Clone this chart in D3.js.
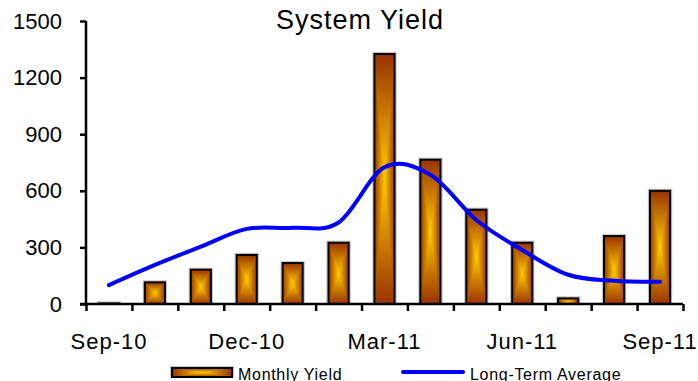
<!DOCTYPE html>
<html lang="en">
<head>
    <meta charset="UTF-8">
    <title>System Yield</title>
    <style>
        body { margin: 0; background: #fff; }
        svg { display: block; font-family: "Liberation Sans", Arial, sans-serif; }
        .axis path,
        .axis line {
            fill: none;
            stroke: black;
            stroke-width: 2.5;
        }
        .axis text {
            font-size: 22px;
            fill: #000;
        }
    </style>
</head>
<body>
<script src="https://cdn.jsdelivr.net/npm/d3@7"></script>
<script>
    var width = 698;
    var height = 381;

    // data
    var months = ["Sep-10", "Oct-10", "Nov-10", "Dec-10", "Jan-11", "Feb-11", "Mar-11",
                  "Apr-11", "May-11", "Jun-11", "Jul-11", "Aug-11", "Sep-11"];
    var monthlyYield = [3, 115, 182, 260, 217, 325, 1325, 765, 500, 325, 30, 360, 600];
    var longTermAvg = [100, 207, 304, 398, 404, 432, 725, 685, 445, 286, 155, 123, 118];
    var yTicks = [0, 300, 600, 900, 1200, 1500];
    var xLabels = ["Sep-10", "Dec-10", "Mar-11", "Jun-11", "Sep-11"];

    var plotLeft = 86, plotRight = 683, plotTop = 21, plotBottom = 304;
    var brown = "#993300", yellow = "#FFCC00";

    var svg = d3.select("body").append("svg")
        .attr("width", width)
        .attr("height", height);

    var defs = svg.append("defs");
    // horizontal: edge -> centre -> edge
    var gh = defs.append("linearGradient").attr("id", "gh")
        .attr("x1", 0).attr("x2", 1).attr("y1", 0).attr("y2", 0);
    gh.append("stop").attr("offset", 0).attr("stop-color", brown);
    gh.append("stop").attr("offset", 0.5).attr("stop-color", yellow);
    gh.append("stop").attr("offset", 1).attr("stop-color", brown);
    // vertical halves for the top / bottom triangles
    var gt = defs.append("linearGradient").attr("id", "gt")
        .attr("x1", 0).attr("x2", 0).attr("y1", 0).attr("y2", 1);
    gt.append("stop").attr("offset", 0).attr("stop-color", brown);
    gt.append("stop").attr("offset", 1).attr("stop-color", yellow);
    var gb = defs.append("linearGradient").attr("id", "gb")
        .attr("x1", 0).attr("x2", 0).attr("y1", 0).attr("y2", 1);
    gb.append("stop").attr("offset", 0).attr("stop-color", yellow);
    gb.append("stop").attr("offset", 1).attr("stop-color", brown);

    // scales
    var pad = 0.56;
    var x = d3.scaleBand()
        .domain(months)
        .range([plotLeft, plotRight])
        .paddingInner(pad)
        .paddingOuter(pad / 2);
    var xEdge = d3.scaleLinear().domain([0, months.length]).range([plotLeft, plotRight]);
    var y = d3.scaleLinear().domain([0, 1500]).range([plotBottom, plotTop]);

    // bars with a "from centre" rectangular gradient
    function drawBar(g, x0, y0, w, h) {
        var cx = x0 + w / 2, cy = y0 + h / 2;
        g.append("rect").attr("x", x0 - 1.5).attr("y", y0 - 1.5)
            .attr("width", w + 3).attr("height", h + 1.5)
            .attr("fill", "none").attr("stroke", "#c8c8c8").attr("stroke-width", 1.2);
        g.append("rect").attr("x", x0).attr("y", y0)
            .attr("width", w).attr("height", h).attr("fill", "url(#gh)");
        if (h > 2) {
            g.append("path")
                .attr("d", "M" + x0 + "," + y0 + "L" + (x0 + w) + "," + y0 + "L" + cx + "," + cy + "Z")
                .attr("fill", "url(#gt)");
            g.append("path")
                .attr("d", "M" + x0 + "," + (y0 + h) + "L" + (x0 + w) + "," + (y0 + h) + "L" + cx + "," + cy + "Z")
                .attr("fill", "url(#gb)");
        }
        g.append("rect").attr("x", x0).attr("y", y0)
            .attr("width", w).attr("height", h)
            .attr("fill", "none").attr("stroke", "#000").attr("stroke-width", 2);
    }

    var bars = svg.append("g");
    monthlyYield.forEach(function(d, i) {
        var g = bars.append("g");
        drawBar(g, x(months[i]), y(d), x.bandwidth(), y(0) - y(d));
    });

    // long-term average line
    var line = d3.line()
        .x(function(d, i) { return x(months[i]) + x.bandwidth() / 2; })
        .y(function(d) { return y(d); })
        .curve(d3.curveCatmullRom.alpha(0));
    svg.append("path")
        .datum(longTermAvg)
        .attr("d", line)
        .attr("fill", "none")
        .attr("stroke", "#0000FF")
        .attr("stroke-width", 4)
        .attr("stroke-linecap", "round");

    // y axis
    var yAxis = d3.axisLeft(y).tickValues(yTicks).tickSize(6).tickPadding(18)
        .tickFormat(d3.format("d"));
    svg.append("g")
        .attr("class", "axis")
        .attr("transform", "translate(" + plotLeft + ",0)")
        .call(yAxis)
        .call(function(g) { g.select(".domain").attr("d", "M0," + plotTop + "V" + plotBottom); });

    // x axis: ticks on the category edges
    var xAxis = d3.axisBottom(xEdge).tickValues(d3.range(months.length + 1))
        .tickSize(7).tickFormat("");
    svg.append("g")
        .attr("class", "axis")
        .attr("transform", "translate(0," + plotBottom + ")")
        .call(xAxis)
        .call(function(g) { g.select(".domain").attr("d", "M" + (plotLeft - 6) + ",0H" + plotRight); });

    svg.append("g").selectAll("text")
        .data(xLabels)
        .enter()
        .append("text")
        .attr("x", function(d) { return x(d) + x.bandwidth() / 2; })
        .attr("y", 349)
        .attr("text-anchor", "middle")
        .style("font-size", "22px")
        .style("letter-spacing", "1px")
        .text(function(d) { return d; });

    // title
    svg.append("text")
        .attr("x", 360)
        .attr("y", 29)
        .attr("text-anchor", "middle")
        .style("font-size", "27px")
        .style("letter-spacing", "1px")
        .text("System Yield");

    // legend
    var legend = svg.append("g");
    drawBar(legend.append("g"), 172, 368, 60, 9);
    legend.append("text").attr("x", 238).attr("y", 380)
        .style("font-size", "16px").style("letter-spacing", "0.7px")
        .text("Monthly Yield");
    legend.append("line")
        .attr("x1", 403).attr("x2", 463).attr("y1", 372).attr("y2", 372)
        .attr("stroke", "#0000FF").attr("stroke-width", 4).attr("stroke-linecap", "round");
    legend.append("text").attr("x", 470).attr("y", 380)
        .style("font-size", "16px").style("letter-spacing", "0.7px")
        .text("Long-Term Average");
</script>
</body>
</html>
